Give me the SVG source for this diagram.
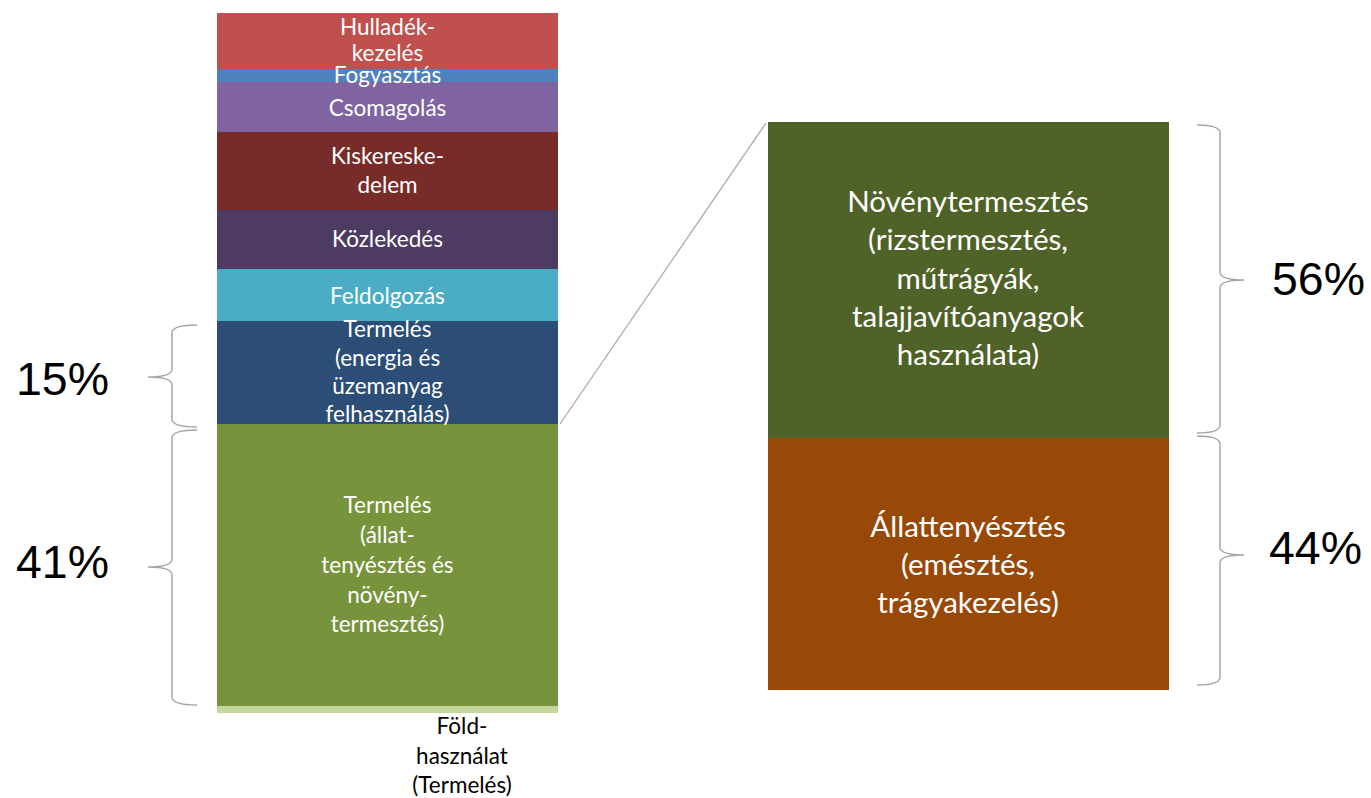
<svg xmlns="http://www.w3.org/2000/svg" width="1371" height="798" viewBox="0 0 1371 798">
  <style>
    .seg { font-family: Lato, "Open Sans", "Liberation Sans", sans-serif; font-size: 22.5px; fill: #FFFFFF; text-anchor: middle; }
    .big { font-family: Lato, "Open Sans", "Liberation Sans", sans-serif; font-size: 29.5px; fill: #FFFFFF; text-anchor: middle; }
    .pct { font-family: "Liberation Sans", Arial, sans-serif; font-size: 46px; fill: #000000; }
    .brace { fill: none; stroke: #A6A6A6; stroke-width: 1.5; }
    .dark { fill: #000000; }
  </style>
  <rect width="1371" height="798" fill="#FFFFFF"/>

  <!-- stacked emission bar (drawn so each label sits above neighbouring bands) -->
  <g id="hulladek">
    <rect x="217" y="13" width="341" height="56" fill="#C0504D"/>
    <text class="seg" x="387.5" y="35">Hulladék-</text>
    <text class="seg" x="387.5" y="61">kezelés</text>
  </g>
  <g id="csomagolas">
    <rect x="217" y="82" width="341" height="50" fill="#8064A2"/>
    <text class="seg" x="387.5" y="116">Csomagolás</text>
  </g>
  <g id="fogyasztas">
    <rect x="217" y="69" width="341" height="13" fill="#4F81BD"/>
    <text class="seg" x="387.5" y="83">Fogyasztás</text>
  </g>
  <g id="kiskereskedelem">
    <rect x="217" y="132" width="341" height="78" fill="#772C2A"/>
    <text class="seg" x="387.5" y="164">Kiskereske-</text>
    <text class="seg" x="387.5" y="193">delem</text>
  </g>
  <g id="kozlekedes">
    <rect x="217" y="210" width="341" height="59" fill="#4D3B62"/>
    <text class="seg" x="387.5" y="247">Közlekedés</text>
  </g>
  <g id="feldolgozas">
    <rect x="217" y="269" width="341" height="52" fill="#4BACC6"/>
    <text class="seg" x="387.5" y="304">Feldolgozás</text>
  </g>
  <g id="termeles-allat">
    <rect x="217" y="424" width="341" height="282" fill="#77933C"/>
    <text class="seg" x="387.5" y="513">Termelés</text>
    <text class="seg" x="387.5" y="543">(állat-</text>
    <text class="seg" x="387.5" y="573">tenyésztés és</text>
    <text class="seg" x="387.5" y="603">növény-</text>
    <text class="seg" x="387.5" y="632">termesztés)</text>
  </g>
  <g id="termeles-energia">
    <rect x="217" y="321" width="341" height="103" fill="#2C4D75"/>
    <text class="seg" x="387.5" y="337">Termelés</text>
    <text class="seg" x="387.5" y="366">(energia és</text>
    <text class="seg" x="387.5" y="394">üzemanyag</text>
    <text class="seg" x="387.5" y="422">felhasználás)</text>
  </g>
  <g id="foldhasznalat">
    <rect x="217" y="706" width="341" height="7" fill="#C3D69B"/>
    <text class="seg dark" x="462" y="734">Föld-</text>
    <text class="seg dark" x="462" y="764">használat</text>
    <text class="seg dark" x="462" y="793">(Termelés)</text>
  </g>

  <!-- breakdown bar -->
  <g id="novenytermesztes">
    <rect x="768" y="122" width="401" height="316" fill="#4F6228"/>
    <text class="big" x="968" y="212">Növénytermesztés</text>
    <text class="big" x="968" y="250">(rizstermesztés,</text>
    <text class="big" x="968" y="288.5">műtrágyák,</text>
    <text class="big" x="968" y="327">talajjavítóanyagok</text>
    <text class="big" x="968" y="365">használata)</text>
  </g>
  <g id="allattenyesztes">
    <rect x="768" y="438" width="401" height="252" fill="#984807"/>
    <text class="big" x="968" y="537">Állattenyésztés</text>
    <text class="big" x="968" y="575">(emésztés,</text>
    <text class="big" x="968" y="613">trágyakezelés)</text>
  </g>

  <!-- connectors and braces -->
  <g id="connectors">
    <line x1="560" y1="424" x2="766" y2="123" stroke="#A6A6A6" stroke-width="1.2"/>
    <path class="brace" d="M197,325 Q172,325 172,333 L172,369 Q172,377 148,377 Q172,377 172,385 L172,419 Q172,427 197,427"/>
    <path class="brace" d="M197,430 Q172,430 172,438 L172,559 Q172,567 148,567 Q172,567 172,575 L172,697 Q172,705 197,705"/>
    <path class="brace" d="M1197,125 Q1220,125 1220,133 L1220,272 Q1220,280 1244,280 Q1220,280 1220,288 L1220,425 Q1220,433 1197,433"/>
    <path class="brace" d="M1197,436 Q1220,436 1220,444 L1220,547 Q1220,555 1244,555 Q1220,555 1220,563 L1220,677 Q1220,685 1197,685"/>
  </g>

  <!-- percentage labels -->
  <g id="labels">
    <text class="pct" x="16" y="395" textLength="93" lengthAdjust="spacingAndGlyphs">15%</text>
    <text class="pct" x="16" y="578" textLength="93" lengthAdjust="spacingAndGlyphs">41%</text>
    <text class="pct" x="1272" y="295" textLength="93" lengthAdjust="spacingAndGlyphs">56%</text>
    <text class="pct" x="1269" y="564" textLength="93" lengthAdjust="spacingAndGlyphs">44%</text>
  </g>
</svg>
